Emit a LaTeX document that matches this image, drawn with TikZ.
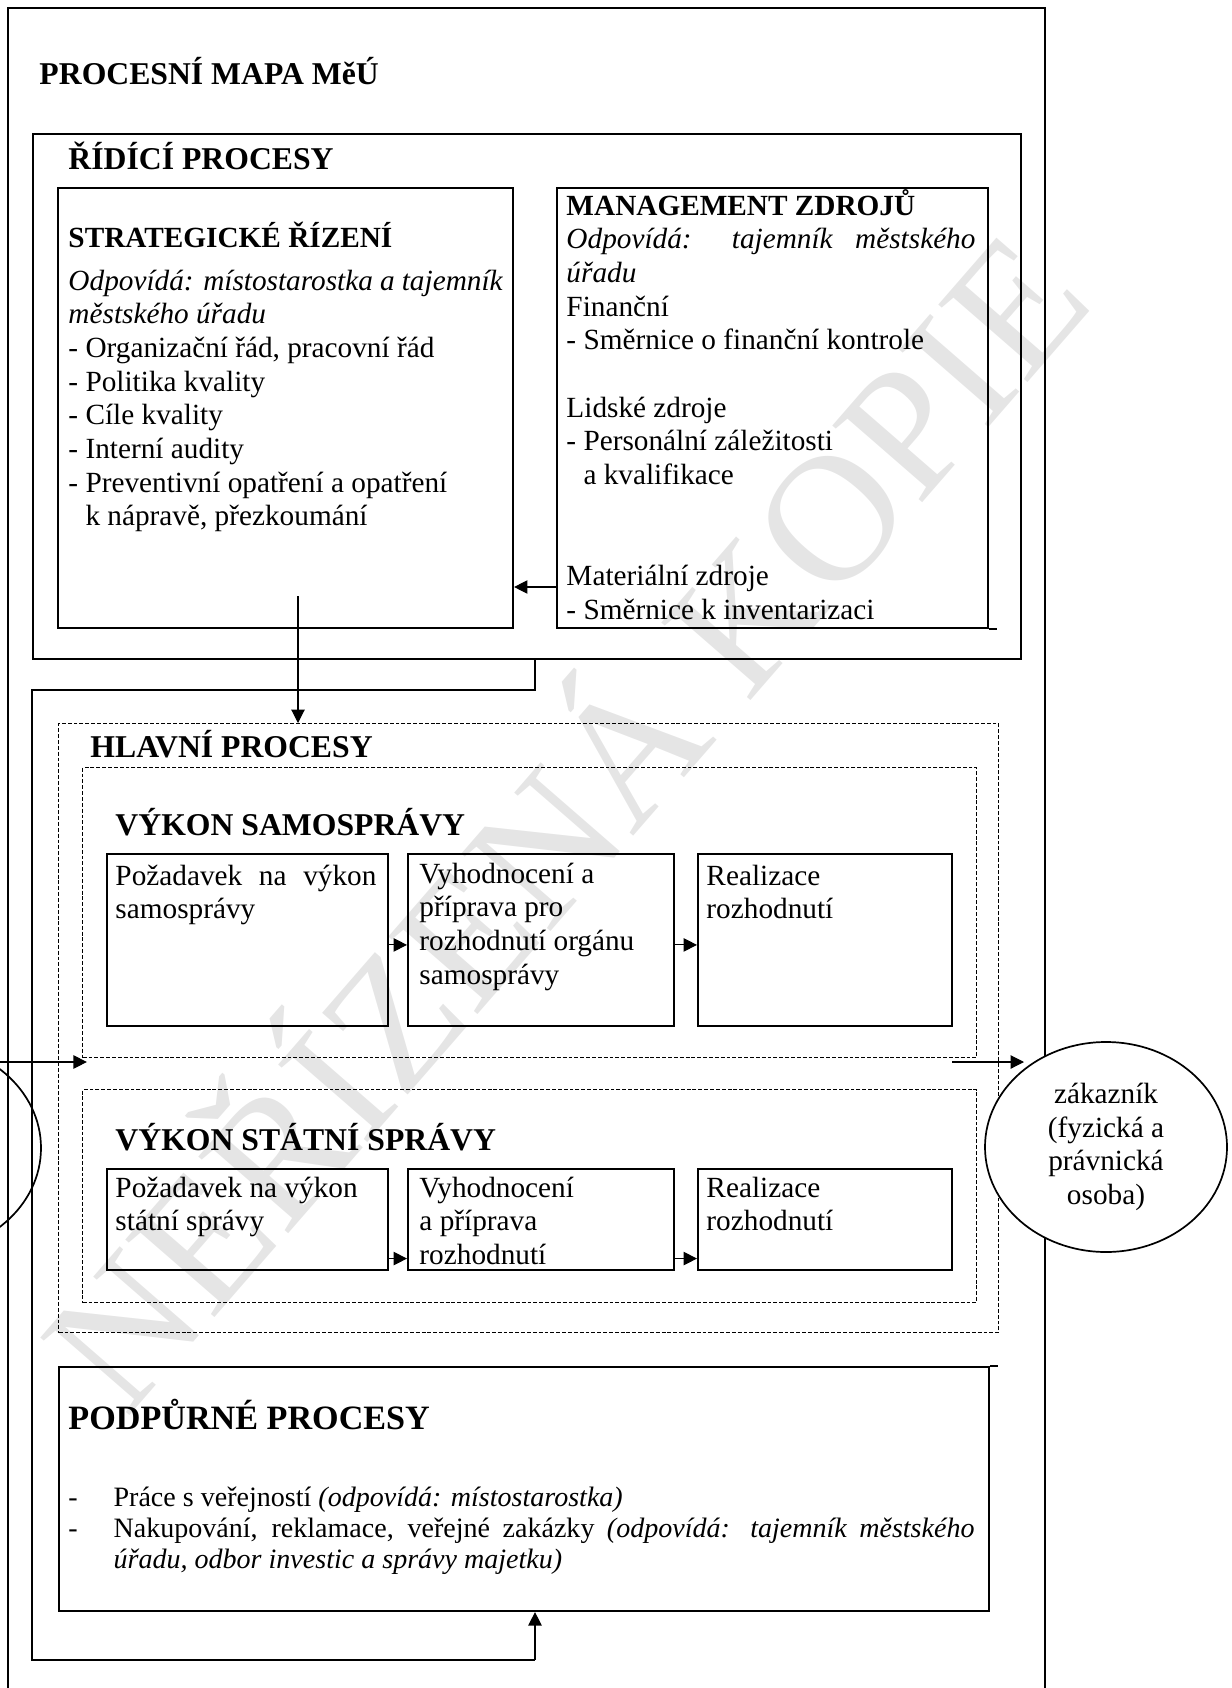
\documentclass[tikz,border=0pt]{standalone}
\usepackage{fontspec}
\setmainfont{Liberation Serif}
\usetikzlibrary{arrows.meta,shapes.geometric}

\newcommand{\pxu}{0.41pt}
\newcommand{\topstrut}{\rule{0pt}{11pt}}

\begin{document}
\begin{tikzpicture}[x=0.41pt, y=-0.41pt,
  every node/.style={inner sep=0pt, font=\fontsize{12}{13.8}\selectfont},
  >={Triangle[length=5.5pt, width=5.5pt]},
  procbox/.style={draw, line width=0.85pt, anchor=north west},
  dashbox/.style={draw, line width=0.55pt, dash pattern=on 1.6pt off 0.8pt, anchor=north west},
  bodytext/.style={anchor=north west, align=left},
  headtext/.style={anchor=base west, font=\fontsize{13}{15}\selectfont\bfseries},
  partner/.style={ellipse, draw, line width=0.7pt, minimum width=242*\pxu, minimum height=210*\pxu, align=center},
  feedback/.style={line width=0.85pt},
  conn/.style={line width=0.45pt}]
	\useasboundingbox (0,0) rectangle (1231,1688);
	% watermark
	\node[anchor=base west, rotate=49, text=black!10, font=\fontsize{74}{74}\selectfont] (stamp) at (126,1420) {NEŘÍZENÁ KOPIE};
	\draw[line width=0.75pt] (8,1688) -- (8,8) -- (1045,8) -- (1045,1688);
	\node[headtext] (mapa) at (39,85) {PROCESNÍ MAPA MěÚ};

	% ridici procesy
	\node[procbox, minimum width=988*\pxu, minimum height=525*\pxu] (rizeni) at (32,133) {};
	\node[headtext] (rizenit) at (68,170) {ŘÍDÍCÍ PROCESY};
	\node[procbox, minimum width=455*\pxu, minimum height=440*\pxu] (strat) at (57,187) {};
	\node[headtext, font=\fontsize{12}{13.8}\selectfont\bfseries] (stratt) at (68,247) {STRATEGICKÉ ŘÍZENÍ};
	\node[bodytext] (stratb) at (68,263) {\topstrut\textit{\makebox[178pt][s]{Odpovídá: místostarostka a tajemník}}\\
		\textit{městského úřadu}\\ - Organizační řád, pracovní řád\\ - Politika kvality\\ - Cíle kvality\\ - Interní audity\\
		- Preventivní opatření a opatření\\ \phantom{- }k nápravě, přezkoumání};
	\node[procbox, minimum width=431*\pxu, minimum height=440*\pxu] (mgmt) at (556,187) {};
	\draw[line width=0.85pt] (mgmt.south east) -- ++(8,0);
	\node[bodytext] (mgmtb) at (566,188) {\topstrut\textbf{MANAGEMENT ZDROJŮ}\\
		\textit{\makebox[167.7pt][s]{Odpovídá: tajemník městského}}\\ \textit{úřadu}\\ Finanční\\
		- Směrnice o finanční kontrole\\[13.8pt] Lidské zdroje\\ - Personální záležitosti\\
		\phantom{- }a kvalifikace\\[27.6pt] Materiální zdroje\\ - Směrnice k inventarizaci};
	\coordinate (mfrom) at (556,587);
	\draw[conn, ->] (mfrom) -- (mfrom -| strat.east);

	% hlavni procesy
	\node[dashbox, minimum width=940*\pxu, minimum height=609*\pxu] (hlavni) at (58,723) {};
	\node[headtext] (hlavnit) at (90,757) {HLAVNÍ PROCESY};
	\coordinate (sfrom) at (298,596);
	\draw[conn, ->] (sfrom) -- (sfrom |- hlavni.north);

	\node[dashbox, minimum width=894*\pxu, minimum height=290*\pxu] (samo) at (82,767) {};
	\node[headtext] (samot) at (115,835) {VÝKON SAMOSPRÁVY};
	\node[procbox, minimum width=281*\pxu, minimum height=172*\pxu] (s1) at (106,853) {};
	\node[procbox, minimum width=266*\pxu, minimum height=172*\pxu] (s2) at (407,853) {};
	\node[procbox, minimum width=254*\pxu, minimum height=172*\pxu] (s3) at (697,853) {};
	\node[bodytext] (s1t) at ([shift={(9,5)}]s1.north west) {\topstrut\makebox[107pt][s]{Požadavek na výkon}\\ samosprávy};
	\node[bodytext] (s2t) at ([shift={(12,3)}]s2.north west) {\topstrut Vyhodnocení a\\ příprava pro\\ rozhodnutí orgánu\\ samosprávy};
	\node[bodytext] (s3t) at ([shift={(9,5)}]s3.north west) {\topstrut Realizace\\ rozhodnutí};
	\draw[conn, ->] ([yshift=-2pt]s1.east) -- ([yshift=-2pt]s2.west);
	\draw[conn, ->] ([yshift=-2pt]s2.east) -- ([yshift=-2pt]s3.west);

	\node[dashbox, minimum width=894*\pxu, minimum height=213*\pxu] (stat) at (82,1089) {};
	\node[headtext] (statt) at (115,1150) {VÝKON STÁTNÍ SPRÁVY};
	\node[procbox, minimum width=281*\pxu, minimum height=101*\pxu] (t1) at (106,1168) {};
	\node[procbox, minimum width=266*\pxu, minimum height=101*\pxu] (t2) at (407,1168) {};
	\node[procbox, minimum width=254*\pxu, minimum height=101*\pxu] (t3) at (697,1168) {};
	\node[bodytext] (t1t) at ([shift={(9,2)}]t1.north west) {\topstrut Požadavek na výkon\\ státní správy};
	\node[bodytext] (t2t) at ([shift={(12,2)}]t2.north west) {\topstrut Vyhodnocení\\ a příprava\\ rozhodnutí};
	\node[bodytext] (t3t) at ([shift={(9,2)}]t3.north west) {\topstrut Realizace\\ rozhodnutí};
	\draw[conn, ->] ([yshift=-16pt]t1.east) -- ([yshift=-16pt]t2.west);
	\draw[conn, ->] ([yshift=-16pt]t2.east) -- ([yshift=-16pt]t3.west);

	% vstup a zakaznik
	\node[partner] (vstup) at (-80,1148) {};
	\node[partner, fill=white] (zak) at (1106,1147) {zákazník\\(fyzická a\\právnická\\osoba)};
	\coordinate (inL) at (0,1062);
	\draw[conn, ->, shorten >=-2pt] (inL) -- (inL -| samo.west);
	\coordinate (outR) at (952,1062);
	\coordinate (outE) at (1024,1062);
	\draw[conn, ->] (outR) -- (outE);

	% podpurne procesy
	\node[procbox, minimum width=930*\pxu, minimum height=244*\pxu] (podp) at (58,1366) {};
	\draw[line width=0.85pt] (podp.north east) -- ++(8,0);
	\node[headtext, font=\fontsize{14}{16}\selectfont\bfseries] (podpt) at (68,1429) {PODPŮRNÉ PROCESY};
	\node[bodytext, font=\fontsize{11.5}{12.65}\selectfont] (podpb) at (68,1482) {\rule{0pt}{10pt}\makebox[18.5pt][l]{-}Práce s veřejností \textit{(odpovídá: místostarostka)}\\
		\makebox[18.5pt][l]{-}\makebox[353pt][s]{Nakupování, reklamace, veřejné zakázky \textit{(odpovídá: tajemník městského}}\\
		\hspace*{18.5pt}\textit{úřadu, odbor investic a správy majetku)}};
	\coordinate (lend) at (535,1660);
	\draw[feedback] (rizeni.south -| lend) |- (32,690) |- (lend);
	\draw[conn, ->] (lend) -- (lend |- podp.south);
\end{tikzpicture}
\end{document}
